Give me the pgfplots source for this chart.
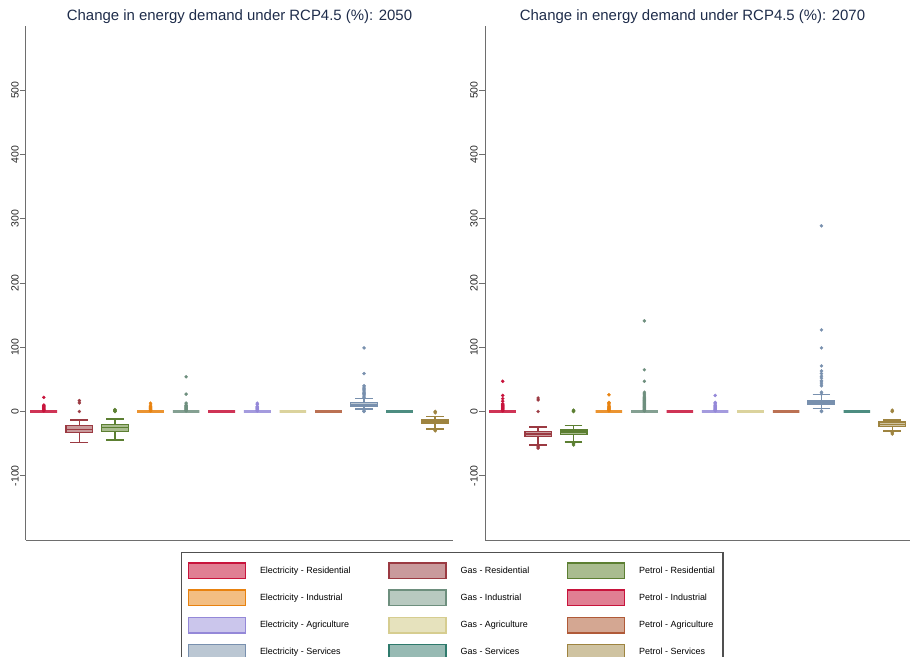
\documentclass[border=0pt]{standalone}
\usepackage{pgfplots}
\pgfplotsset{compat=1.18}
\usepgfplotslibrary{statistics}
\usepackage{fontspec}
\setmainfont{Liberation Sans}
\definecolor{c1}{HTML}{C8143C}\definecolor{c1f}{HTML}{E07F93}
\definecolor{c2}{HTML}{9B3A42}\definecolor{c2f}{HTML}{C99A9C}
\definecolor{c3}{HTML}{5C7F32}\definecolor{c3f}{HTML}{A9BC8F}
\definecolor{c4}{HTML}{E8820F}\definecolor{c4f}{HTML}{F3BE82}
\definecolor{c5}{HTML}{6E8F7E}\definecolor{c5f}{HTML}{B8C9C0}
\definecolor{c6}{HTML}{C8143C}\definecolor{c6f}{HTML}{E07F93}
\definecolor{c7}{HTML}{9488D8}\definecolor{c7f}{HTML}{CBC6EC}
\definecolor{c8}{HTML}{D6CD90}\definecolor{c8f}{HTML}{E6E2BD}
\definecolor{c9}{HTML}{B05A38}\definecolor{c9f}{HTML}{D4A792}
\definecolor{c10}{HTML}{7890AE}\definecolor{c10f}{HTML}{BBC7D3}
\definecolor{c11}{HTML}{2E7A6C}\definecolor{c11f}{HTML}{97BAB3}
\definecolor{c12}{HTML}{9E8440}\definecolor{c12f}{HTML}{CFC3A1}
\definecolor{axgray}{HTML}{6E6E6E}
\definecolor{titlecol}{HTML}{1E2C4A}
\definecolor{leggray}{HTML}{505050}
\pgfplotsset{
  panel/.style={scale only axis, height=514bp, ymin=-200, ymax=600, xmin=0.5, xmax=12.5,
    axis x line*=bottom, axis y line*=left, xtick=\empty, ytick={-100,0,100,200,300,400,500},
    tick align=outside, major tick length=6bp,
    axis line style={draw=axgray, line width=1bp},
    y tick style={draw=axgray, line width=0.8bp},
    yticklabel style={rotate=90, anchor=south, font=\fontsize{10.5}{12}\selectfont, inner sep=1bp, text=black!85},
    /pgf/number format/assume math mode=true,
    title style={font=\fontsize{15}{18}\selectfont, text=titlecol, at={(0.5,1)}, anchor=base, yshift=0bp},
    clip=false},
  b/.style={draw=#1, fill=#1f, line width=1.5bp, mark=*, mark size=1.6bp,
    mark options={draw=#1, fill=#1, line width=0.3bp, solid},
    boxplot/draw direction=y,
    boxplot/box extend=0.75, boxplot/whisker extend=0.5},
  flat/.style={line width=2.2bp, draw=#1!70!#1f},
}
\begin{document}
\begin{tikzpicture}
\useasboundingbox (-26bp,-117bp) rectangle (885bp,540bp);
% ---------------- 2050 ----------------
\begin{axis}[panel, width=427bp, at={(0,0)}, anchor=south west,
  title={Change in energy demand under RCP4.5 (\%): 2050}]
\addplot[b=c1, flat=c1, boxplot prepared={draw position=1, lower whisker=0, lower quartile=0, median=0, upper quartile=0, upper whisker=0}]
  table[row sep=\\, y index=0]{x\\ 1\\ 2\\ 3\\ 4\\ 5\\ 6\\ 7\\ 8\\ 9\\ 10\\ 22\\};
\addplot[b=c2, boxplot prepared={draw position=2, lower whisker=-48, lower quartile=-33, median=-28, upper quartile=-22, upper whisker=-13}]
  table[row sep=\\, y index=0]{x\\ 0\\ 13.5\\ 17\\};
\addplot[b=c3, boxplot prepared={draw position=3, lower whisker=-44, lower quartile=-31, median=-25, upper quartile=-20, upper whisker=-12}]
  table[row sep=\\, y index=0]{x\\ 0\\ 1\\ 2\\ 3\\};
\addplot[b=c4, flat=c4, boxplot prepared={draw position=4, lower whisker=0, lower quartile=0, median=0, upper quartile=0, upper whisker=0}]
  table[row sep=\\, y index=0]{x\\ 1\\ 2\\ 3\\ 4\\ 5\\ 6\\ 7\\ 8\\ 10\\ 13\\};
\addplot[b=c5, flat=c5, boxplot prepared={draw position=5, lower whisker=0, lower quartile=0, median=0, upper quartile=0, upper whisker=0}]
  table[row sep=\\, y index=0]{x\\ 1\\ 2\\ 3\\ 4\\ 5\\ 6\\ 7\\ 8\\ 9\\ 10\\ 13\\ 27\\ 54\\};
\addplot[b=c6, flat=c6, boxplot prepared={draw position=6, lower whisker=0, lower quartile=0, median=0, upper quartile=0, upper whisker=0}]
  coordinates {};
\addplot[b=c7, flat=c7, boxplot prepared={draw position=7, lower whisker=0, lower quartile=0, median=0, upper quartile=0, upper whisker=0}]
  table[row sep=\\, y index=0]{x\\ 1\\ 2\\ 3\\ 4\\ 5\\ 6\\ 7\\ 8\\ 11\\ 13\\};
\addplot[b=c8, flat=c8, boxplot prepared={draw position=8, lower whisker=0, lower quartile=0, median=0, upper quartile=0, upper whisker=0}]
  coordinates {};
\addplot[b=c9, flat=c9, boxplot prepared={draw position=9, lower whisker=0, lower quartile=0, median=0, upper quartile=0, upper whisker=0}]
  coordinates {};
\addplot[b=c10, boxplot prepared={draw position=10, lower whisker=4, lower quartile=8, median=10.5, upper quartile=14, upper whisker=20}]
  table[row sep=\\, y index=0]{x\\ 0\\ 1\\ 22\\ 24\\ 26\\ 28\\ 30\\ 32\\ 34\\ 36\\ 38\\ 40\\ 59\\ 99\\};
\addplot[b=c11, flat=c11, boxplot prepared={draw position=11, lower whisker=0, lower quartile=0, median=0, upper quartile=0, upper whisker=0}]
  coordinates {};
\addplot[b=c12, boxplot prepared={draw position=12, lower whisker=-27.5, lower quartile=-19, median=-16, upper quartile=-13, upper whisker=-8}]
  table[row sep=\\, y index=0]{x\\ 0\\ -2\\ -29\\ -30\\};
\end{axis}
% ---------------- 2070 ----------------
\begin{axis}[panel, width=425bp, at={(459bp,0)}, anchor=south west,
  title={Change in energy demand under RCP4.5 (\%): 2070}, title style={xshift=-5bp}]
\addplot[b=c1, flat=c1, boxplot prepared={draw position=1, lower whisker=0, lower quartile=0, median=0, upper quartile=0, upper whisker=0}]
  table[row sep=\\, y index=0]{x\\ 1\\ 2\\ 3\\ 4\\ 5\\ 6\\ 7\\ 8\\ 9\\ 10\\ 11\\ 12\\ 16\\ 20\\ 25\\ 47\\};
\addplot[b=c2, boxplot prepared={draw position=2, lower whisker=-52, lower quartile=-39, median=-35, upper quartile=-31, upper whisker=-24}]
  table[row sep=\\, y index=0]{x\\ -55\\ -57\\ 0\\ 18\\ 21\\};
\addplot[b=c3, boxplot prepared={draw position=3, lower whisker=-47.5, lower quartile=-36, median=-32, upper quartile=-28.5, upper whisker=-22}]
  table[row sep=\\, y index=0]{x\\ 0\\ 1\\ 2\\ -50\\ -52\\};
\addplot[b=c4, flat=c4, boxplot prepared={draw position=4, lower whisker=0, lower quartile=0, median=0, upper quartile=0, upper whisker=0}]
  table[row sep=\\, y index=0]{x\\ 1\\ 2\\ 3\\ 4\\ 5\\ 6\\ 7\\ 8\\ 10\\ 12\\ 14\\ 26\\};
\addplot[b=c5, flat=c5, boxplot prepared={draw position=5, lower whisker=0, lower quartile=0, median=0, upper quartile=0, upper whisker=0}]
  table[row sep=\\, y index=0]{x\\ 1\\ 2\\ 3\\ 4\\ 5\\ 6\\ 7\\ 8\\ 9\\ 10\\ 11\\ 12\\ 13\\ 14\\ 15\\ 16\\ 17\\ 18\\ 19\\ 20\\ 22\\ 24\\ 26\\ 28\\ 30\\ 47\\ 65\\ 141\\};
\addplot[b=c6, flat=c6, boxplot prepared={draw position=6, lower whisker=0, lower quartile=0, median=0, upper quartile=0, upper whisker=0}]
  coordinates {};
\addplot[b=c7, flat=c7, boxplot prepared={draw position=7, lower whisker=0, lower quartile=0, median=0, upper quartile=0, upper whisker=0}]
  table[row sep=\\, y index=0]{x\\ 1\\ 2\\ 3\\ 4\\ 5\\ 6\\ 7\\ 8\\ 9\\ 10\\ 12\\ 14\\ 25\\};
\addplot[b=c8, flat=c8, boxplot prepared={draw position=8, lower whisker=0, lower quartile=0, median=0, upper quartile=0, upper whisker=0}]
  coordinates {};
\addplot[b=c9, flat=c9, boxplot prepared={draw position=9, lower whisker=0, lower quartile=0, median=0, upper quartile=0, upper whisker=0}]
  coordinates {};
\addplot[b=c10, boxplot prepared={draw position=10, lower whisker=5, lower quartile=11.5, median=14, upper quartile=16.5, upper whisker=26.5}]
  table[row sep=\\, y index=0]{x\\ 0\\ 1\\ 27\\ 30\\ 40\\ 43\\ 46\\ 48\\ 52\\ 55\\ 59\\ 63\\ 71\\ 99\\ 127\\ 289\\};
\addplot[b=c11, flat=c11, boxplot prepared={draw position=11, lower whisker=0, lower quartile=0, median=0, upper quartile=0, upper whisker=0}]
  coordinates {};
\addplot[b=c12, boxplot prepared={draw position=12, lower whisker=-30, lower quartile=-23, median=-20, upper quartile=-16.5, upper whisker=-13.5}]
  table[row sep=\\, y index=0]{x\\ 0\\ 2\\ -33\\ -35\\};
\end{axis}
% ---------------- legend ----------------
\begin{axis}[hide axis, scale only axis, width=427bp, height=514bp, at={(0,0)}, anchor=south west,
  xmin=0, xmax=1, ymin=0, ymax=1,
  legend image code/.code={\draw[#1, line width=1.4bp] (0bp,-7.8bp) rectangle (57bp,7.8bp);},
  legend columns=3,
  legend style={at={(axis description cs:0.363,-0.0224)}, anchor=north west,
    draw=leggray, line width=1.2bp, font=\fontsize{9}{11}\selectfont,
    inner xsep=6bp, inner ysep=10bp, row sep=10.2bp, cells={anchor=west},
    /tikz/every odd column/.append style={column sep=12bp},
    /tikz/every even column/.append style={column sep=35.5bp}}]
\addlegendimage{draw=c1, fill=c1f}\addlegendentry{Electricity - Residential}
\addlegendimage{draw=c2, fill=c2f}\addlegendentry{Gas - Residential}
\addlegendimage{draw=c3, fill=c3f}\addlegendentry{Petrol - Residential}
\addlegendimage{draw=c4, fill=c4f}\addlegendentry{Electricity - Industrial}
\addlegendimage{draw=c5, fill=c5f}\addlegendentry{Gas - Industrial}
\addlegendimage{draw=c6, fill=c6f}\addlegendentry{Petrol - Industrial}
\addlegendimage{draw=c7, fill=c7f}\addlegendentry{Electricity - Agriculture}
\addlegendimage{draw=c8, fill=c8f}\addlegendentry{Gas - Agriculture}
\addlegendimage{draw=c9, fill=c9f}\addlegendentry{Petrol - Agriculture}
\addlegendimage{draw=c10, fill=c10f}\addlegendentry{Electricity - Services}
\addlegendimage{draw=c11, fill=c11f}\addlegendentry{Gas - Services}
\addlegendimage{draw=c12, fill=c12f}\addlegendentry{Petrol - Services}
\end{axis}
\end{tikzpicture}
\end{document}
